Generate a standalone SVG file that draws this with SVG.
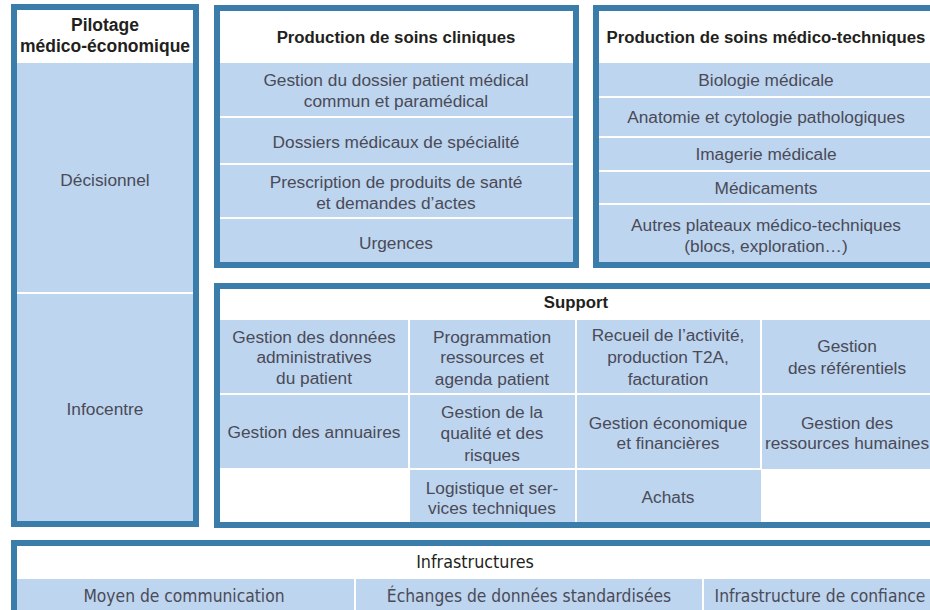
<svg xmlns="http://www.w3.org/2000/svg" width="930" height="610" viewBox="0 0 930 610">
<style>
.frame{fill:none;stroke:#3a7dab;stroke-width:6}
.bg{fill:#ffffff}
.cell{fill:#bdd5ee}
.div{stroke:#ffffff;stroke-width:2}
.h{font-family:"Liberation Sans",Arial,sans-serif;font-weight:bold;font-size:16.8px;fill:#231f20;text-anchor:middle}
.hp{font-size:17.5px}
.t{font-family:"Liberation Sans",Arial,sans-serif;font-size:17.3px;fill:#4a4a58;text-anchor:middle}
.ih{font-family:"DejaVu Sans Condensed","DejaVu Sans",sans-serif;font-stretch:condensed;font-size:17.8px;fill:#231f20;text-anchor:middle}
.it{font-family:"DejaVu Sans Condensed","DejaVu Sans",sans-serif;font-stretch:condensed;font-size:17.3px;fill:#4a4a58;text-anchor:middle}
</style>
<rect width="930" height="610" fill="#ffffff"/>

<g id="pilotage">
<rect class="bg" x="14" y="7" width="182" height="517"/>
<rect class="cell" x="17" y="63" width="176" height="458"/>
<line class="div" x1="17" y1="293" x2="193" y2="293"/>
<rect class="frame" x="14" y="7" width="182" height="517"/>
<text class="h hp" x="105" y="31">Pilotage</text>
<text class="h hp" x="105" y="52">médico-économique</text>
<text class="t" x="105" y="186">Décisionnel</text>
<text class="t" x="105" y="415">Infocentre</text>
</g>

<g id="cliniques">
<rect class="bg" x="217" y="8" width="359" height="257"/>
<rect class="cell" x="220" y="63" width="353" height="200"/>
<line class="div" x1="220" y1="117" x2="573" y2="117"/>
<line class="div" x1="220" y1="164" x2="573" y2="164"/>
<line class="div" x1="220" y1="218" x2="573" y2="218"/>
<rect class="frame" x="217" y="8" width="359" height="257"/>
<text class="h" x="396" y="43">Production de soins cliniques</text>
<text class="t" x="396" y="86">Gestion du dossier patient médical</text>
<text class="t" x="396" y="107">commun et paramédical</text>
<text class="t" x="396" y="148">Dossiers médicaux de spécialité</text>
<text class="t" x="396" y="188">Prescription de produits de santé</text>
<text class="t" x="396" y="209">et demandes d’actes</text>
<text class="t" x="396" y="249">Urgences</text>
</g>

<g id="medicotech">
<rect class="bg" x="596" y="8" width="340" height="257"/>
<rect class="cell" x="599" y="63" width="334" height="200"/>
<line class="div" x1="599" y1="97" x2="933" y2="97"/>
<line class="div" x1="599" y1="137" x2="933" y2="137"/>
<line class="div" x1="599" y1="171" x2="933" y2="171"/>
<line class="div" x1="599" y1="204" x2="933" y2="204"/>
<rect class="frame" x="596" y="8" width="340" height="257"/>
<text class="h" x="766" y="43">Production de soins médico-techniques</text>
<text class="t" x="766" y="86">Biologie médicale</text>
<text class="t" x="766" y="123">Anatomie et cytologie pathologiques</text>
<text class="t" x="766" y="160">Imagerie médicale</text>
<text class="t" x="766" y="194">Médicaments</text>
<text class="t" x="766" y="231">Autres plateaux médico-techniques</text>
<text class="t" x="766" y="252">(blocs, exploration…)</text>
</g>

<g id="support">
<rect class="bg" x="217" y="286" width="719" height="239"/>
<rect class="cell" x="220" y="320" width="713" height="149"/>
<rect class="cell" x="409" y="469" width="352" height="53"/>
<line class="div" x1="409" y1="320" x2="409" y2="522"/>
<line class="div" x1="576" y1="320" x2="576" y2="522"/>
<line class="div" x1="761" y1="320" x2="761" y2="469"/>
<line class="div" x1="220" y1="394" x2="933" y2="394"/>
<line class="div" x1="220" y1="469" x2="761" y2="469"/>
<rect class="frame" x="217" y="286" width="719" height="239"/>
<text class="h" x="576" y="308">Support</text>
<text class="t" x="314" y="343">Gestion des données</text>
<text class="t" x="314" y="363">administratives</text>
<text class="t" x="314" y="384">du patient</text>
<text class="t" x="492" y="343">Programmation</text>
<text class="t" x="492" y="363">ressources et</text>
<text class="t" x="492" y="385">agenda patient</text>
<text class="t" x="668" y="341">Recueil de l’activité,</text>
<text class="t" x="668" y="363">production T2A,</text>
<text class="t" x="668" y="385">facturation</text>
<text class="t" x="847" y="352">Gestion</text>
<text class="t" x="847" y="374">des référentiels</text>
<text class="t" x="314" y="438">Gestion des annuaires</text>
<text class="t" x="492" y="418">Gestion de la</text>
<text class="t" x="492" y="439">qualité et des</text>
<text class="t" x="492" y="461">risques</text>
<text class="t" x="668" y="429">Gestion économique</text>
<text class="t" x="668" y="449">et financières</text>
<text class="t" x="847" y="429">Gestion des</text>
<text class="t" x="847" y="449">ressources humaines</text>
<text class="t" x="492" y="494">Logistique et ser-</text>
<text class="t" x="492" y="514">vices techniques</text>
<text class="t" x="668" y="503">Achats</text>
</g>

<g id="infrastructures">
<rect class="bg" x="14" y="543" width="922" height="80"/>
<rect class="cell" x="17" y="579" width="916" height="41"/>
<line class="div" x1="355" y1="579" x2="355" y2="620"/>
<line class="div" x1="703" y1="579" x2="703" y2="620"/>
<rect class="frame" x="14" y="543" width="922" height="80"/>
<text class="ih" x="475" y="568">Infrastructures</text>
<text class="it" x="184" y="602">Moyen de communication</text>
<text class="it" x="529" y="602">Échanges de données standardisées</text>
<text class="it" x="820" y="602">Infrastructure de confiance</text>
</g>

<g id="connectors"></g>
</svg>
